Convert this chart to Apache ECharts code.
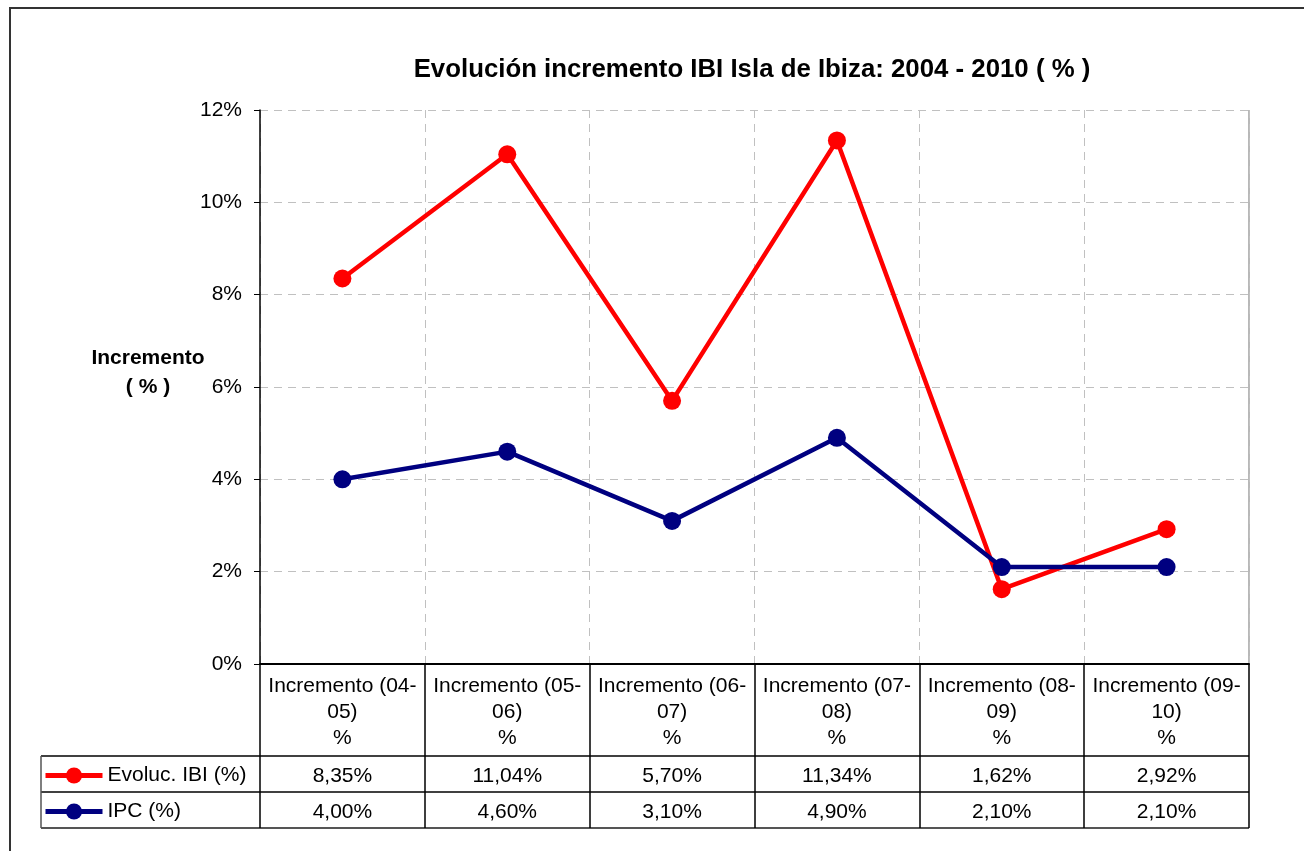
<!DOCTYPE html>
<html><head><meta charset="utf-8">
<script src="https://cdn.jsdelivr.net/npm/echarts@6/dist/echarts.min.js"></script>
<style>html,body{margin:0;padding:0;background:#fff}#c{width:1304px;height:851px}</style>
</head><body><div id="c"></div>
<script>
const categories = ["Incremento (04-\n05)\n%","Incremento (05-\n06)\n%","Incremento (06-\n07)\n%","Incremento (07-\n08)\n%","Incremento (08-\n09)\n%","Incremento (09-\n10)\n%"];
const ibiValues = [8.35, 11.04, 5.70, 11.34, 1.62, 2.92];
const ipcValues = [4.00, 4.60, 3.10, 4.90, 2.10, 2.10];
const seriesNames = ["Evoluc. IBI (%)", "IPC (%)"];
const titleText = "Evolución incremento IBI Isla de Ibiza: 2004 - 2010 ( % )";
const yAxisName = "Incremento\n( % )";

const fmt = v => v.toFixed(2).replace('.', ',') + '%';
const FONT = 'Liberation Sans, Arial, sans-serif';
const chart = echarts.init(document.getElementById('c'), null, {renderer: 'canvas'});

const rowAxis = (data, offset) => ({
  type: 'category', gridIndex: 0, position: 'bottom', offset: offset, data: data,
  boundaryGap: true, axisLine: {show: false}, axisTick: {show: false}, splitLine: {show: false},
  axisLabel: {interval: 0, margin: 10, fontSize: 21, lineHeight: 21, color: '#000', fontFamily: FONT}
});

const gL = 260, gR = 1249, gT = 110, gB = 664;
chart.setOption({
  animation: false,
  backgroundColor: '#fff',
  textStyle: {fontFamily: FONT},
  grid: {left: gL, right: 1304 - gR, top: gT, bottom: 851 - gB, containLabel: false},
  legend: {
    orient: 'vertical', left: 43, top: 765, itemWidth: 57, itemHeight: 20, itemGap: 15, padding: 0,
    lineStyle: {width: 5},
    textStyle: {fontSize: 21, color: '#000', fontFamily: FONT, lineHeight: 21},
    data: seriesNames
  },
  xAxis: [
    {
      type: 'category', data: categories, boundaryGap: true,
      axisLine: {lineStyle: {color: '#000', width: 2}},
      axisTick: {show: true, interval: 0, length: 164, lineStyle: {color: '#000', width: 1.5}},
      axisLabel: {interval: 0, margin: 9, fontSize: 21, lineHeight: 26, color: '#000', fontFamily: FONT},
      splitLine: {show: true, interval: 0, lineStyle: {color: '#c0c0c0', type: [8, 6], width: 1}}
    },
    rowAxis(ibiValues.map(fmt), 92),
    rowAxis(ipcValues.map(fmt), 128)
  ],
  yAxis: {
    type: 'value', min: 0, max: 12, interval: 2,
    axisLine: {show: true, lineStyle: {color: '#000', width: 1.5}},
    axisTick: {show: true, length: 6, lineStyle: {color: '#000'}},
    axisLabel: {formatter: '{value}%', fontSize: 21, color: '#000', margin: 18, fontFamily: FONT, padding: [4, 0, 0, 0]},
    splitLine: {show: true, lineStyle: {color: '#c0c0c0', type: [8, 6], width: 1}}
  },
  series: [
    {name: seriesNames[0], type: 'line', data: ibiValues, symbol: 'circle', symbolSize: 18,
     lineStyle: {color: '#ff0000', width: 4.5}, itemStyle: {color: '#ff0000'}},
    {name: seriesNames[1], type: 'line', data: ipcValues, symbol: 'circle', symbolSize: 18,
     lineStyle: {color: '#000080', width: 4.5}, itemStyle: {color: '#000080'}}
  ],
  graphic: [
    {type: 'rect', shape: {x: 10, y: 8, width: 1400, height: 900}, style: {fill: 'none', stroke: '#333', lineWidth: 2}, silent: true},
    {type: 'text', x: 752, y: 70, style: {text: titleText, font: 'bold 25.8px ' + FONT, fill: '#000', textAlign: 'center', textVerticalAlign: 'middle'}},
    {type: 'text', x: 148, y: 373, style: {text: yAxisName, font: 'bold 21px ' + FONT, fill: '#000', textAlign: 'center', textVerticalAlign: 'middle', lineHeight: 29}},
    {type: 'line', shape: {x1: gR, y1: gT, x2: gR, y2: gB}, style: {stroke: '#a0a0a0', lineWidth: 1.5}},
    {type: 'line', shape: {x1: 41, y1: 756, x2: gR, y2: 756}, style: {stroke: '#000', lineWidth: 1.5}},
    {type: 'line', shape: {x1: 41, y1: 792, x2: gR, y2: 792}, style: {stroke: '#000', lineWidth: 1.5}},
    {type: 'line', shape: {x1: 41, y1: 828, x2: gR, y2: 828}, style: {stroke: '#555', lineWidth: 2}},
    {type: 'line', shape: {x1: 41, y1: 756, x2: 41, y2: 828}, style: {stroke: '#555', lineWidth: 1.5}}
  ]
});
</script></body></html>
